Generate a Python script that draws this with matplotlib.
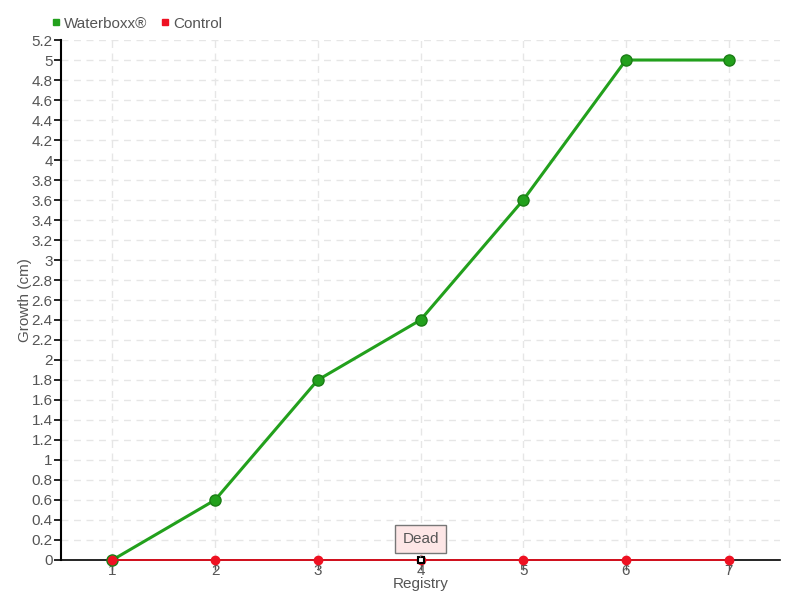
import numpy as np
import matplotlib.pyplot as plt

registry = [1, 2, 3, 4, 5, 6, 7]
waterboxx = [0, 0.6, 1.8, 2.4, 3.6, 5, 5]
control = [0, 0, 0, 0, 0, 0, 0]
y_ticks = [round(0.2 * i, 1) for i in range(27)]
dead_index = 3

plt.rcParams['font.family'] = ['Liberation Sans', 'DejaVu Sans']
text_color = '#555555'

fig = plt.figure(figsize=(8, 6), dpi=100)
ax = fig.add_axes([0.07625, 0.0667, 0.8988, 0.8666])

ax.set_xlim(0.5, 7.5)
ax.set_ylim(0, 5.2)
ax.set_yticks(y_ticks)
ax.set_yticklabels([f"{v:g}" for v in y_ticks])
ax.set_xticks(registry)

ax.grid(True, color='#e6e6e6', linestyle=(0, (5, 4)), linewidth=1)
ax.set_axisbelow(True)
for side in ['top', 'right']:
    ax.spines[side].set_visible(False)
ax.spines['left'].set_color('black')
ax.spines['bottom'].set_color('black')
ax.spines['left'].set_linewidth(1.5)
ax.spines['bottom'].set_linewidth(1.2)

ax.tick_params(axis='y', length=5, width=1.2, color='black', labelsize=11,
               labelcolor=text_color, pad=1)
ax.tick_params(axis='x', length=7, width=1, color='#555555', labelsize=11,
               labelcolor=text_color, pad=-4)

ax.plot(registry, waterboxx, color='#22a01c', linewidth=2.2, marker='o',
        markersize=8, markerfacecolor='#22a01c', markeredgecolor='#1a7d15',
        label='Waterboxx®', zorder=3, clip_on=False)
ax.plot(registry, control, color='#e3101e', linewidth=1.3, marker='o',
        markersize=6, markerfacecolor='#ee1122', markeredgecolor='#ee1122',
        label='Control', zorder=4, clip_on=False)
# hovered point
ax.plot(registry[dead_index], control[dead_index], marker='s', markersize=5,
        markerfacecolor='white', markeredgecolor='black', markeredgewidth=1.5,
        zorder=5, clip_on=False)

ax.annotate('Dead', xy=(registry[dead_index], control[dead_index] + 0.03),
            xytext=(registry[dead_index], 0.21), ha='center', va='center',
            fontsize=11, color=text_color, zorder=6,
            bbox=dict(boxstyle='square,pad=0.45', fc='#fde6e6', ec='#777777', lw=1),
            arrowprops=dict(arrowstyle='-', color='#777777', lw=1))

ax.set_xlabel('Registry', fontsize=11, color=text_color, labelpad=-1)
ax.set_ylabel('Growth (cm)', fontsize=11, color=text_color, labelpad=0)

handles = [
    plt.Line2D([], [], linestyle='none', marker='s', markersize=5,
               color='#22a01c', label='Waterboxx®'),
    plt.Line2D([], [], linestyle='none', marker='s', markersize=5,
               color='#ee1122', label='Control'),
]
fig.legend(handles=handles, loc='upper left', bbox_to_anchor=(0.045, 0.995),
           ncol=2, frameon=False, fontsize=11, handletextpad=0.1,
           columnspacing=0.8, handlelength=0.8, labelcolor=text_color)

fig.savefig('out.png', dpi=100)
